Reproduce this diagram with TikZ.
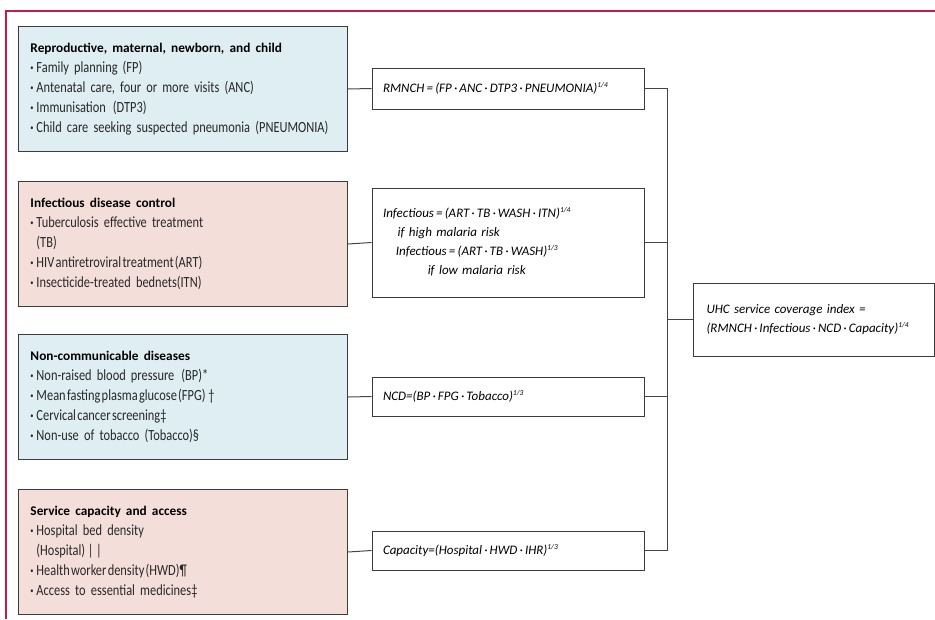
\documentclass[tikz,border=0pt]{standalone}
\usepackage{fontspec}
\setmainfont{Carlito}
\newfontfamily\cnd{Carlito}[FakeStretch=0.8]
\definecolor{framec}{RGB}{196,28,74}
\definecolor{boxline}{RGB}{60,60,60}
\definecolor{linec}{RGB}{70,70,70}
\definecolor{blueF}{RGB}{222,238,243}
\definecolor{pinkF}{RGB}{243,222,218}
\definecolor{txt}{RGB}{40,40,40}
\newcommand\bul{\raisebox{2.2pt}{\fontsize{8}{8}\selectfont\textbullet}\hspace{2.8pt}}
\newcommand\bulind{\hphantom{\bul}}
\newcommand\tgt[1]{{\spaceskip=1.3pt\relax #1}}
\newcommand\spw[1]{\raisebox{5pt}{\fontsize{7.5}{8}\selectfont #1}}
\newcommand\ttl[1]{{\rmfamily\fontsize{13.3}{20}\selectfont\bfseries\color{black}#1}}
\hyphenpenalty=10000
\exhyphenpenalty=10000
\tikzset{
  catbox/.style={draw=boxline, line width=1pt, anchor=north west, minimum width=329pt,
    minimum height=125pt, text width=305pt, inner xsep=12pt, inner ysep=0pt, align=left,
    text=txt, font=\fontsize{15.5}{20}\selectfont\cnd},
  fmbox/.style={draw=boxline, line width=1pt, fill=white, text width=250pt, inner xsep=11pt,
    inner ysep=0pt, align=left, font=\fontsize{13}{19}\selectfont\itshape},
  conn/.style={draw=linec, line width=1pt},
}
\begin{document}
\begin{tikzpicture}[x=1pt,y=-1pt]
\useasboundingbox (0,0) rectangle (935,619);
\draw[framec, line width=1.2pt] (935,11) -- (6,11) -- (6,619);

\node[catbox, fill=blueF] (c1) at (18,26) {\ttl{Reproductive, maternal, newborn, and child}\\
\bul Family planning\hspace{5pt}(FP)\\
\bul Antenatal care, four or more visits (ANC)\\
\bul Immunisation\hspace{7pt}(DTP3)\\
\bul Child care seeking suspected pneumonia (PNEUMONIA)};

\node[catbox, fill=pinkF] (c2) at (18,181) {\ttl{Infectious disease control}\\
\bul Tuberculosis effective treatment\\
\bulind(TB)\\
\bul \tgt{HIV antiretroviral treatment (ART)}\\
\bul Insecticide-treated bednets(ITN)};

\node[catbox, fill=blueF] (c3) at (18,334) {\ttl{Non-communicable diseases}\\
\bul Non-raised blood pressure\hspace{7pt}(BP)*\\
\bul \tgt{Mean fasting plasma glucose (FPG)}\,†\\
\bul \tgt{Cervical cancer screening}‡\\
\bul Non-use of tobacco (Tobacco)§};

\node[catbox, fill=pinkF] (c4) at (18,489) {\ttl{Service capacity and access}\\
\bul Hospital bed density\\
\bulind(Hospital)\,|\,|\\
\bul \tgt{Health worker density (HWD)}¶\\
\bul Access to essential medicines‡};

\node[fmbox, minimum height=41pt] (f1) at (508,88.5) {RMNCH\,=\,(FP\,·\,ANC\,·\,DTP3\,·\,PNEUMONIA)\spw{1/4}};
\node[fmbox, minimum height=109pt] (f2) at (508,242.5) {\renewcommand\arraystretch{1}\begin{tabular}{@{}c@{}}
Infectious\,=\,(ART\,·\,TB\,·\,WASH\,·\,ITN)\spw{1/4}\\
if high malaria risk\hspace*{56pt}\\
Infectious\,=\,(ART\,·\,TB\,·\,WASH)\spw{1/3}\\
if low malaria risk
\end{tabular}};
\node[fmbox, minimum height=39pt] (f3) at (508,396.5) {NCD=(BP\,·\,FPG\,·\,Tobacco)\spw{1/3}};
\node[fmbox, minimum height=39pt] (f4) at (508,550.5) {Capacity=(Hospital\,·\,HWD\,·\,IHR)\spw{1/3}};

\node[fmbox, text width=215pt, inner xsep=13pt, minimum height=73pt, anchor=west] (uhc) at (693,319.5)
  {UHC service coverage index =\\(RMNCH\,·\,Infectious\,·\,NCD\,·\,Capacity)\spw{1/4}};

\coordinate (bt) at (667,88.5);
\coordinate (bb) at (667,550.5);

\draw[conn] (c1.east) -- (f1.west);
\draw[conn] (c2.east) -- (f2.west);
\draw[conn] (c3.east) -- (f3.west);
\draw[conn] (c4.east) -- (f4.west);
\draw[conn] (f1.east) -- (bt) -- (bb) -- (f4.east);
\draw[conn] (f2.east) -- (f2.east -| bt);
\draw[conn] (f3.east) -- (f3.east -| bt);
\draw[conn] (uhc.west) -- (uhc.west -| bt);
\end{tikzpicture}
\end{document}
